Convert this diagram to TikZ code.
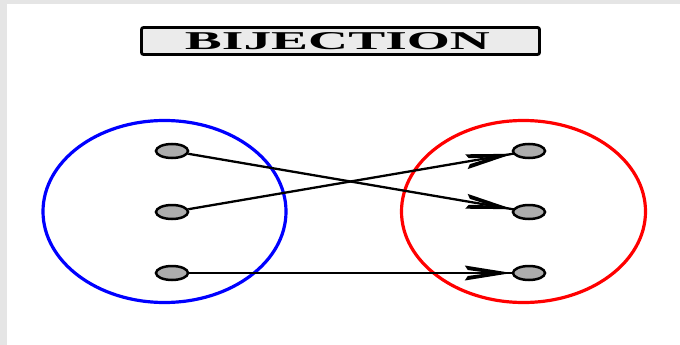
\documentclass[tikz,border=0pt]{standalone}
\usepackage{fontspec}
\setmainfont{Liberation Serif}
\usetikzlibrary{shapes.geometric,decorations.markings}
\begin{document}
\begin{tikzpicture}[x=1pt,y=-1pt,
  dot/.style={draw=black,line width=2.5pt,fill=black!32,ellipse,minimum width=32pt,minimum height=14pt,inner sep=0pt},
  setl/.style={line width=3.2pt},
  maparrow/.style={line width=2.3pt, shorten >=-1pt,
    postaction={decorate},
    decoration={markings, mark=at position 1 with {\fill[black] (0pt,0pt) -- (-47pt,-7.5pt) -- (-44pt,-3pt) -- (-22pt,0pt) -- (-44pt,3pt) -- (-47pt,7.5pt) -- cycle;}}}]
\fill[black!10] (0,0) rectangle (680,345);
\fill[white] (7,4) rectangle (680,345);
\useasboundingbox (0,0) rectangle (680,345);
% title
\node[draw=black,line width=2.8pt,fill=black!8,rounded corners=2pt,minimum width=398pt,minimum height=27pt,inner sep=0pt] (title) at (340.5,41) {};
\node[inner sep=0pt] (ttext) at (337.5,41.5) {\resizebox{305pt}{17pt}{\bfseries BIJECTION}};
% sets
\draw[setl,blue] (164.5,211.5) ellipse [x radius=121.5, y radius=91];
\draw[setl,red] (523.5,211.5) ellipse [x radius=122, y radius=91];
% dots
\node[dot] (l1) at (172,151) {};
\node[dot] (l2) at (172,212) {};
\node[dot] (l3) at (172,273) {};
\node[dot] (r1) at (529,151) {};
\node[dot] (r2) at (529,212) {};
\node[dot] (r3) at (529,273) {};
% maps
\draw[maparrow] (l1) -- (r2);
\draw[maparrow] (l2) -- (r1);
\draw[maparrow] (l3) -- (r3);
\end{tikzpicture}
\end{document}
